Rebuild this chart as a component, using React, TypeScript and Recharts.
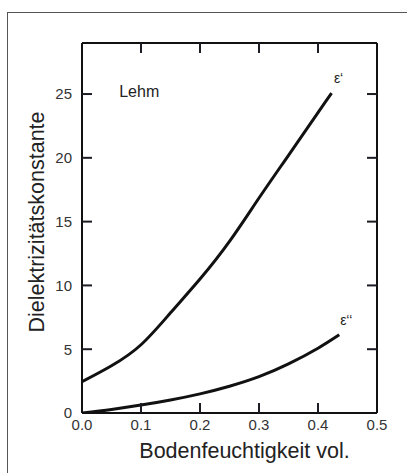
import React from 'react';
import { LineChart, Line, XAxis, YAxis, ReferenceDot } from 'recharts';

const moisturePrime = [0, 0.05, 0.1, 0.15, 0.2, 0.25, 0.3, 0.35, 0.4, 0.423];
const epsPrime = [2.45, 3.7, 5.35, 7.85, 10.5, 13.45, 16.85, 20.2, 23.55, 25.07];
const moistureDouble = [0, 0.05, 0.1, 0.15, 0.2, 0.25, 0.3, 0.35, 0.4, 0.436];
const epsDouble = [0, 0.28, 0.62, 1.02, 1.5, 2.1, 2.85, 3.85, 5.08, 6.13];

const xTicks = [0, 0.1, 0.2, 0.3, 0.4, 0.5];
const xInnerTicks = [0.1, 0.2, 0.3, 0.4];
const yTicks = [0, 5, 10, 15, 20, 25];
const yInnerTicks = [5, 10, 15, 20, 25];

const primeData = moisturePrime.map((x, i) => ({ x, v: epsPrime[i] }));
const doubleData = moistureDouble.map((x, i) => ({ x, v: epsDouble[i] }));

const FONT = '"Liberation Sans", Arial, sans-serif';
const AXIS = '#111';
const TICK = '#1c1c24';
const TXT = '#333';
const TICK_LEN = 10;

const endLabel = (text: string, n: number) => (props: any) => {
  const { x, y, index } = props;
  if (index !== n - 1) return null;
  return (
    <text x={x + 7} y={y - 10} fontSize={14} fontFamily={FONT} fill="#222" textAnchor="middle">
      {text}
    </text>
  );
};

const BottomTick = (props: any) => {
  const { x, y, payload } = props;
  const v = payload.value as number;
  const inner = v > 0 && v < 0.5;
  return (
    <g>
      {inner && <rect x={x - 1} y={y - TICK_LEN} width={2} height={TICK_LEN} fill={TICK} />}
      <text x={x} y={y + 6} dy="0.71em" textAnchor="middle" fontSize={15} fontFamily={FONT} fill={TXT}>
        {v.toFixed(1)}
      </text>
    </g>
  );
};

const TopTick = (props: any) => {
  const { x, y } = props;
  return <rect x={x - 1} y={y} width={2} height={TICK_LEN} fill={TICK} />;
};

const LeftTick = (props: any) => {
  const { x, y, payload } = props;
  const v = payload.value as number;
  return (
    <g>
      {v > 0 && <rect x={x} y={y - 1} width={TICK_LEN} height={2} fill={TICK} />}
      <text x={x - 10} y={y} dy="0.355em" textAnchor="end" fontSize={15} fontFamily={FONT} fill={TXT}>
        {v}
      </text>
    </g>
  );
};

const RightTick = (props: any) => {
  const { x, y } = props;
  return <rect x={x - TICK_LEN} y={y - 1} width={TICK_LEN} height={2} fill={TICK} />;
};

const XTitle = (props: any) => {
  const vb = props.viewBox;
  return (
    <text x={vb.x + vb.width / 2 + 15} y={vb.y + 45} textAnchor="middle" fontSize={21.5} fontFamily={FONT} fill="#222">
      Bodenfeuchtigkeit vol.
    </text>
  );
};

const YTitle = (props: any) => {
  const vb = props.viewBox;
  const x = vb.x + 22;
  const y = vb.y + vb.height / 2 - 6;
  return (
    <text x={x} y={y} transform={`rotate(-90 ${x} ${y})`} textAnchor="middle" fontSize={21.5} fontFamily={FONT} fill="#222">
      Dielektrizitätskonstante
    </text>
  );
};

export default function App() {
  return (
    <div style={{ position: 'absolute', left: 0, top: 0, width: 407, height: 473, background: '#fff' }}>
      <div
        style={{
          position: 'absolute',
          left: 7,
          top: 12,
          width: 400,
          height: 461,
          borderTop: '1.5px solid #555',
          borderLeft: '1.5px solid #555',
        }}
      />
      <LineChart
        width={407}
        height={473}
        margin={{ top: 42, right: 29, bottom: 0, left: 22 }}
        style={{ position: 'absolute', left: 0, top: 0, fontFamily: FONT }}
      >
        <XAxis
          xAxisId="b"
          dataKey="x"
          type="number"
          domain={[0, 0.5]}
          ticks={xTicks}
          interval={0}
          allowDataOverflow
          height={60}
          tickSize={0}
          tickMargin={0}
          tickLine={false}
          stroke={AXIS}
          strokeWidth={2}
          tick={BottomTick}
          label={XTitle}
        />
        <XAxis
          xAxisId="t"
          orientation="top"
          dataKey="x"
          type="number"
          domain={[0, 0.5]}
          ticks={xInnerTicks}
          interval={0}
          allowDataOverflow
          height={1}
          tickSize={0}
          tickMargin={0}
          tickLine={false}
          stroke={AXIS}
          strokeWidth={2}
          tick={TopTick}
        />
        <YAxis
          yAxisId="l"
          type="number"
          domain={[0, 29]}
          ticks={yTicks}
          interval={0}
          allowDataOverflow
          width={60}
          tickSize={0}
          tickMargin={0}
          tickLine={false}
          stroke={AXIS}
          strokeWidth={2}
          tick={LeftTick}
          label={YTitle}
        />
        <YAxis
          yAxisId="r"
          orientation="right"
          type="number"
          domain={[0, 29]}
          ticks={yInnerTicks}
          interval={0}
          allowDataOverflow
          width={1}
          tickSize={0}
          tickMargin={0}
          tickLine={false}
          stroke={AXIS}
          strokeWidth={2}
          tick={RightTick}
        />
        <Line
          xAxisId="b"
          yAxisId="l"
          data={primeData}
          dataKey="v"
          type="natural"
          stroke="#111"
          strokeWidth={3}
          dot={false}
          isAnimationActive={false}
          label={endLabel('ε‘', primeData.length)}
        />
        <Line
          xAxisId="t"
          yAxisId="r"
          data={doubleData}
          dataKey="v"
          type="natural"
          stroke="#111"
          strokeWidth={3}
          dot={false}
          isAnimationActive={false}
          label={endLabel('ε‘‘', doubleData.length)}
        />
        <ReferenceDot
          xAxisId="b"
          yAxisId="l"
          x={0.097}
          y={25.2}
          r={0}
          fill="none"
          stroke="none"
          label={{ value: 'Lehm', position: 'center', fill: '#222', fontSize: 16, fontFamily: FONT }}
        />
      </LineChart>
    </div>
  );
}
